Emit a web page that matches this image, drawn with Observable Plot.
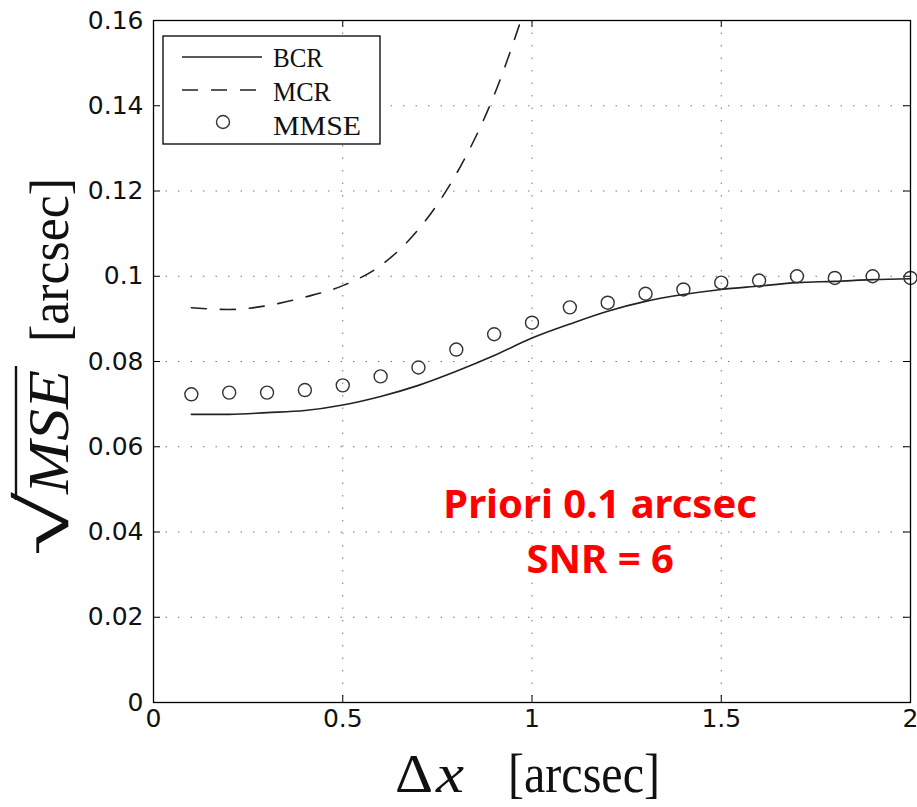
<!DOCTYPE html>
<html>
<head>
<meta charset="utf-8">
<script src="https://cdn.jsdelivr.net/npm/d3@7"></script>
<script src="https://cdn.jsdelivr.net/npm/@observablehq/plot@0.6"></script>
<style>
  html, body { margin: 0; padding: 0; background: #fff; }
  #chart svg { display: block; }
</style>
</head>
<body>
<div id="chart"></div>
<script>
// ---- data ----
const deltaX = [0.1,0.2,0.3,0.4,0.5,0.6,0.7,0.8,0.9,1.0,1.1,1.2,1.3,1.4,1.5,1.6,1.7,1.8,1.9,2.0];
const bcrValues = [0.0676,0.0676,0.0680,0.0685,0.0698,0.0718,0.0744,0.0777,0.0814,0.0855,0.0888,0.0918,0.0941,0.0957,0.0969,0.0977,0.0985,0.0988,0.0992,0.0994];
const mmseValues = [0.0723,0.0727,0.0727,0.0733,0.0744,0.0765,0.0786,0.0828,0.0864,0.0891,0.0927,0.0938,0.0959,0.0969,0.0985,0.0990,0.1000,0.0996,0.1000,0.0996];
const mcrX = [0.1,0.2,0.3,0.4,0.5,0.6,0.7,0.8,0.9,1.0];
const mcrValues = [0.0926,0.0922,0.0931,0.0951,0.0978,0.1025,0.1110,0.1240,0.1425,0.1680];
const xTicks = [0,0.5,1,1.5,2];
const yTicks = [0,0.02,0.04,0.06,0.08,0.1,0.12,0.14,0.16];
const seriesNames = ["BCR","MCR","MMSE"];
const annotation = ["Priori 0.1 arcsec","SNR = 6"];

const bcr = deltaX.map((x,i)=>({x, y: bcrValues[i]}));
const mmse = deltaX.map((x,i)=>({x, y: mmseValues[i]}));
const mcr = mcrX.map((x,i)=>({x, y: mcrValues[i]}));

const W = 917, H = 807, mL = 153, mR = 7, mT = 20, mB = 105;
const pw = W - mL - mR, ph = H - mT - mB;
const fmt = d3.format("~g");
const redFont = "'Noto Sans', sans-serif";

const chart = Plot.plot({
  width: W, height: H,
  marginLeft: mL, marginRight: mR, marginTop: mT, marginBottom: mB,
  x: {domain: [0, 2]},
  y: {domain: [0, 0.16]},
  style: {background: "#fff", fontFamily: "'DejaVu Sans', sans-serif"},
  marks: [
    Plot.gridX(xTicks, {stroke: "#555", strokeOpacity: 0.8, strokeWidth: 1, strokeDasharray: "1.5,11"}),
    Plot.gridY(yTicks, {stroke: "#555", strokeOpacity: 0.8, strokeWidth: 1, strokeDasharray: "1.5,11"}),
    Plot.ruleX(xTicks, {stroke: "#000", insetTop: ph - 7}),
    Plot.ruleX(xTicks, {stroke: "#000", insetBottom: ph - 7}),
    Plot.ruleY(yTicks, {stroke: "#000", insetRight: pw - 7}),
    Plot.ruleY(yTicks, {stroke: "#000", insetLeft: pw - 7}),
    Plot.axisX(xTicks, {tickSize: 0, tickPadding: 7, fontSize: 25, label: null, tickFormat: fmt, color: "#111"}),
    Plot.axisY(yTicks, {tickSize: 0, tickPadding: 10, fontSize: 25, label: null, tickFormat: fmt, color: "#111"}),
    Plot.line(bcr, {x: "x", y: "y", stroke: "#222", strokeWidth: 1.6, curve: "monotone-x"}),
    Plot.line(mcr, {x: "x", y: "y", stroke: "#222", strokeWidth: 1.6, strokeDasharray: "15,14", curve: "monotone-x", clip: true}),
    Plot.dot(mmse, {x: "x", y: "y", r: 6.5, stroke: "#333", strokeWidth: 1.4, fill: "none"}),
    Plot.text([annotation[0]], {x: 1.18, y: 0.0464, text: d => d, fill: "#ff0000", fontSize: 40, fontWeight: "bold", fontFamily: redFont}),
    Plot.text([annotation[1]], {x: 1.18, y: 0.0333, text: d => d, fill: "#ff0000", fontSize: 40, fontWeight: "bold", fontFamily: redFont}),
    Plot.frame({stroke: "#000", strokeWidth: 1.3})
  ]
});
document.getElementById("chart").appendChild(chart);

// ---- legend and axis titles ----
const svg = d3.select(chart);
const serif = "'Liberation Serif', 'DejaVu Serif', serif";
const lg = svg.append("g");
lg.append("rect").attr("x", 163).attr("y", 36).attr("width", 217).attr("height", 108)
  .attr("fill", "#fff").attr("stroke", "#000").attr("stroke-width", 1.3);
lg.append("line").attr("x1", 182).attr("x2", 262).attr("y1", 57).attr("y2", 57)
  .attr("stroke", "#222").attr("stroke-width", 1.6);
lg.append("line").attr("x1", 182).attr("x2", 262).attr("y1", 90).attr("y2", 90)
  .attr("stroke", "#222").attr("stroke-width", 1.6).attr("stroke-dasharray", "16,13");
lg.append("circle").attr("cx", 223).attr("cy", 122).attr("r", 6.5)
  .attr("fill", "none").attr("stroke", "#333").attr("stroke-width", 1.4);
[[seriesNames[0], 67, 50], [seriesNames[1], 101, 58], [seriesNames[2], 135, 88]].forEach(([t, y, len]) => {
  lg.append("text").attr("x", 273).attr("y", y).attr("font-family", serif)
    .attr("text-anchor", "start").attr("font-size", 28).attr("fill", "#111")
    .attr("textLength", len).attr("lengthAdjust", "spacingAndGlyphs").text(t);
});

function label(parent, t, x, len, size, italic) {
  return parent.append("text").attr("x", x).attr("y", 0).attr("text-anchor", "start")
    .attr("font-family", serif).attr("font-size", size).attr("fill", "#111")
    .attr("font-style", italic ? "italic" : "normal")
    .attr("textLength", len).attr("lengthAdjust", "spacingAndGlyphs").text(t);
}
// x-axis title
const xg = svg.append("g").attr("transform", "translate(0,792)");
label(xg, "Δ", 395, 38, 54, false);
label(xg, "x", 436, 28, 54, true);
label(xg, "[arcsec]", 508, 152, 54, false);

// y-axis title (rotated); local x = -screen y
const yg = svg.append("g").attr("transform", "translate(68,0) rotate(-90)");
label(yg, "√", -556, 64, 72, false);
label(yg, "MSE", -494, 124, 56, true);
label(yg, "[arcsec]", -342, 164, 54, false);
yg.append("line").attr("x1", -500).attr("x2", -366).attr("y1", -52).attr("y2", -52)
  .attr("stroke", "#111").attr("stroke-width", 2.4);
</script>
</body>
</html>
